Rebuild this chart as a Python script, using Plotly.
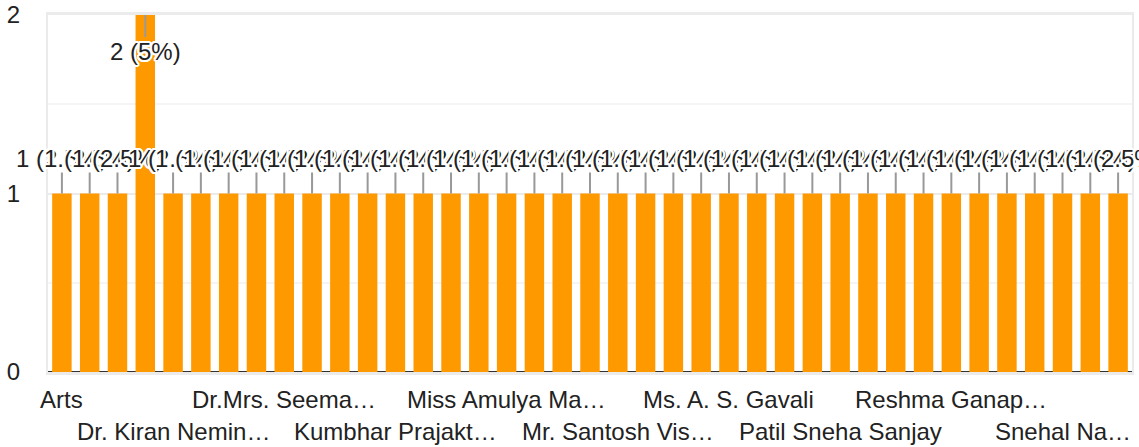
import plotly.graph_objects as go

# ---- data ----
counts = [1, 1, 1, 2, 1, 1, 1, 1, 1, 1,
          1, 1, 1, 1, 1, 1, 1, 1, 1, 1,
          1, 1, 1, 1, 1, 1, 1, 1, 1, 1,
          1, 1, 1, 1, 1, 1, 1, 1, 1]
tick_labels = ["Arts", "Dr. Kiran Nemin…", "Dr.Mrs. Seema…", "Kumbhar Prajakt…",
               "Miss Amulya Ma…", "Mr. Santosh Vis…", "Ms. A. S. Gavali",
               "Patil Sneha Sanjay", "Reshma Ganap…", "Snehal Na…"]
tick_positions = [0, 4, 8, 12, 16, 20, 24, 28, 32, 36]
y_ticks = [0, 1, 2]

total = sum(counts)
x = list(range(len(counts)))

FONT = "Arial, 'Liberation Sans', sans-serif"
FS = 24
BAR = "#ff9900"
TXT = "#222222"

halo = ", ".join(f"{dx}px {dy}px 0 #fff" for dx, dy in
                 [(2, 0), (-2, 0), (0, 2), (0, -2), (1, 1), (-1, 1), (1, -1), (-1, -1),
                  (2, 1), (2, -1), (-2, 1), (-2, -1), (1, 2), (-1, 2), (1, -2), (-1, -2)])

fig = go.Figure()
fig.add_trace(go.Bar(x=x, y=counts, marker=dict(color=BAR, line=dict(width=0)),
                     hoverinfo="skip"))

annotations = []
ymax = max(y_ticks)
for i, c in enumerate(counts):
    pct = c / total * 100
    txt = f"{c} ({pct:g}%)"
    inside = c >= ymax
    annotations.append(dict(
        x=i, y=c, xref="x", yref="y", text=txt, showarrow=True,
        arrowhead=0, arrowwidth=2, arrowcolor="#999999", ax=0,
        ay=36 if inside else -35, standoff=0, borderpad=0,
        font=dict(family=FONT, size=FS, color=TXT, shadow=halo),
    ))

for k, (lab, pos) in enumerate(zip(tick_labels, tick_positions)):
    annotations.append(dict(
        x=pos, y=0, xref="x", yref="paper", text=lab, showarrow=False,
        xanchor="center", yanchor="middle", yshift=-27 if k % 2 == 0 else -59,
        font=dict(family=FONT, size=FS, color=TXT),
    ))

fig.update_layout(
    width=1139, height=447,
    margin=dict(l=48, r=7, t=15, b=75, autoexpand=False),
    paper_bgcolor="white", plot_bgcolor="white",
    bargap=0.30, showlegend=False,
    font=dict(family=FONT, size=FS, color=TXT),
    annotations=annotations,
    xaxis=dict(range=[-0.5, len(counts) - 0.5], showticklabels=False, automargin=False,
               showgrid=False, zeroline=False, ticks="",
               showline=True, mirror=True, linecolor="#ebebeb", linewidth=3),
    yaxis=dict(range=[0, 2], tickvals=y_ticks, ticktext=[str(v) for v in y_ticks],
               automargin=False,
               showgrid=True, gridcolor="#ebebeb", gridwidth=2,
               minor=dict(dtick=0.5, showgrid=True, gridcolor="#f5f5f5", gridwidth=2),
               zeroline=True, zerolinecolor="#333333", zerolinewidth=3,
               showline=True, mirror=True, linecolor="#ebebeb", linewidth=2,
               ticks="", ticklabelstandoff=21,
               tickfont=dict(family=FONT, size=FS, color=TXT)),
)

fig.write_html("out.html", config={"displayModeBar": False},
               post_script="document.body.style.margin='0';document.body.style.overflow='hidden';")
